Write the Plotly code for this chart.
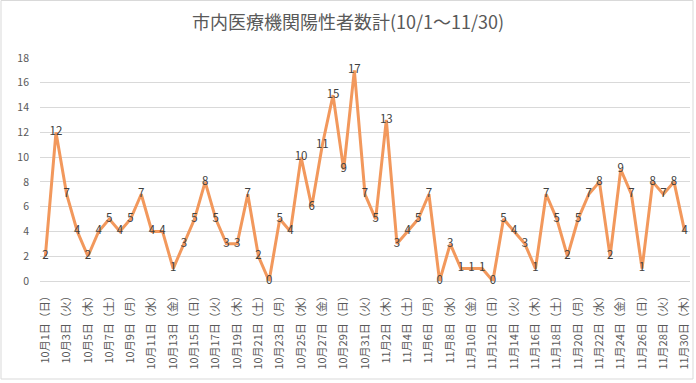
import plotly.graph_objects as go

title = "市内医療機関陽性者数計(10/1～11/30)"

dates = [
    "10月1日（日）", "10月2日（月）", "10月3日（火）", "10月4日（水）", "10月5日（木）", "10月6日（金）", "10月7日（土）",
    "10月8日（日）", "10月9日（月）", "10月10日（火）", "10月11日（水）", "10月12日（木）", "10月13日（金）", "10月14日（土）",
    "10月15日（日）", "10月16日（月）", "10月17日（火）", "10月18日（水）", "10月19日（木）", "10月20日（金）", "10月21日（土）",
    "10月22日（日）", "10月23日（月）", "10月24日（火）", "10月25日（水）", "10月26日（木）", "10月27日（金）", "10月28日（土）",
    "10月29日（日）", "10月30日（月）", "10月31日（火）",
    "11月1日（水）", "11月2日（木）", "11月3日（金）", "11月4日（土）", "11月5日（日）", "11月6日（月）", "11月7日（火）",
    "11月8日（水）", "11月9日（木）", "11月10日（金）", "11月11日（土）", "11月12日（日）", "11月13日（月）", "11月14日（火）",
    "11月15日（水）", "11月16日（木）", "11月17日（金）", "11月18日（土）", "11月19日（日）", "11月20日（月）", "11月21日（火）",
    "11月22日（水）", "11月23日（木）", "11月24日（金）", "11月25日（土）", "11月26日（日）", "11月27日（月）", "11月28日（火）",
    "11月29日（水）", "11月30日（木）",
]

positives = [
    2, 12, 7, 4, 2, 4, 5, 4, 5, 7, 4, 4, 1, 3, 5, 8, 5, 3, 3, 7, 2, 0, 5, 4, 10, 6, 11, 15, 9, 17, 7,
    5, 13, 3, 4, 5, 7, 0, 3, 1, 1, 1, 0, 5, 4, 3, 1, 7, 5, 2, 5, 7, 8, 2, 9, 7, 1, 8, 7, 8, 4,
]

tick_labels = dates[::2]
y_ticks = [0, 2, 4, 6, 8, 10, 12, 14, 16, 18]

FONT = "Noto Sans CJK JP, Noto Sans, sans-serif"

fig = go.Figure()
fig.add_trace(go.Scatter(
    x=dates, y=positives,
    mode="lines+text",
    line=dict(color="#F2985C", width=3),
    text=[str(v) for v in positives],
    textposition="middle center",
    textfont=dict(family=FONT, size=11.5, color="#404040"),
    cliponaxis=False,
    hoverinfo="x+y",
))

fig.update_layout(
    width=696, height=383,
    margin=dict(l=40, r=6, t=58, b=102),
    paper_bgcolor="white", plot_bgcolor="white",
    showlegend=False,
    title=dict(text=title, x=0.5, xanchor="center", y=0.942, yanchor="middle",
               font=dict(family=FONT, size=18, color="#595959")),
    xaxis=dict(
        type="category", range=[-0.5, len(dates) - 0.5],
        tickmode="array", tickvals=tick_labels, ticktext=tick_labels,
        tickangle=-90, tickfont=dict(family=FONT, size=11, color="#595959"),
        showgrid=False, zeroline=False, showline=False, ticks="",
        ticklabelstandoff=6,
        fixedrange=True,
    ),
    yaxis=dict(
        range=[0, 18], tickvals=y_ticks,
        tickfont=dict(family=FONT, size=10.5, color="#595959"),
        showgrid=True, gridcolor="#D9D9D9", gridwidth=1,
        zeroline=True, zerolinecolor="#D9D9D9", zerolinewidth=1,
        showline=False, ticks="", ticklabelstandoff=10,
    ),
    shapes=[dict(type="rect", xref="paper", yref="paper",
                 x0=-39 / 650, x1=653 / 650, y0=-(379 - 281) / 223, y1=(281 - 0.5) / 223,
                 line=dict(color="#D9D9D9", width=1), fillcolor="rgba(0,0,0,0)", layer="below")],
)

fig.write_html("out.html", config={"displayModeBar": False},
               post_script="document.body.style.margin='0';document.body.style.overflow='hidden';")
